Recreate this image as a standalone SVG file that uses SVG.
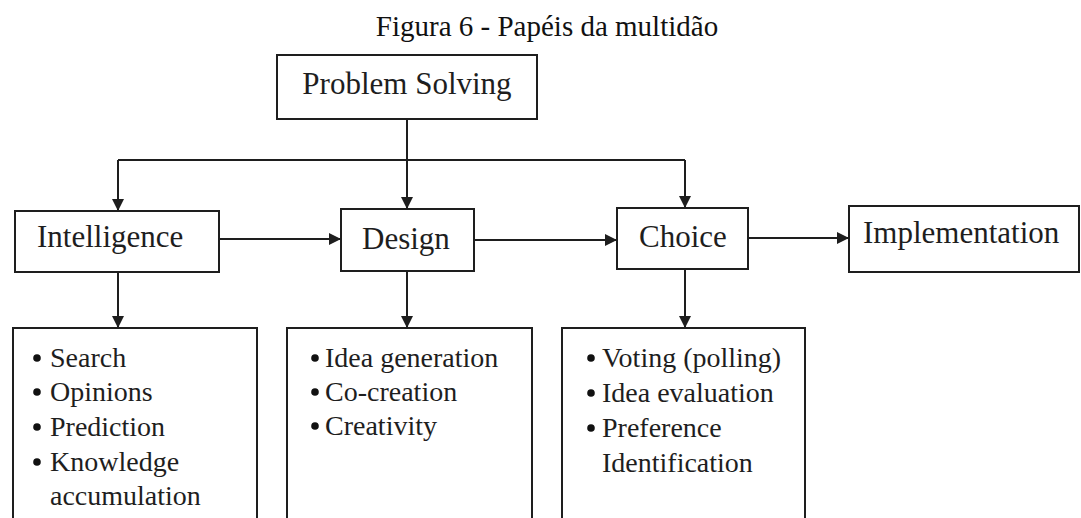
<svg xmlns="http://www.w3.org/2000/svg" width="1081" height="518" viewBox="0 0 1081 518">
  <style>
    .box { fill: #ffffff; stroke: #1e1e1e; stroke-width: 2; }
    .lbl { font-family: "Liberation Serif", "Times New Roman", serif; font-size: 31px; fill: #1e1e1e; }
    .item { font-family: "Liberation Serif", "Times New Roman", serif; font-size: 28px; fill: #1e1e1e; }
    .dot { fill: #111111; }
    .title { font-family: "Liberation Serif", "Times New Roman", serif; font-size: 29px; fill: #111111; }
    .wire { fill: none; stroke: #1e1e1e; stroke-width: 2; }
  </style>
  <defs>
    <marker id="arrow" viewBox="0 0 12 12" refX="12" refY="6" markerWidth="12" markerHeight="12" markerUnits="userSpaceOnUse" orient="auto">
      <path d="M0,0 L12,6 L0,12 Z" fill="#1e1e1e"/>
    </marker>
  </defs>

  <rect width="1081" height="518" fill="#ffffff"/>

  <text class="title" x="547" y="36" text-anchor="middle">Figura 6 - Papéis da multidão</text>

  <g id="connectors">
    <!-- trunk from Problem Solving -->
    <path class="wire" d="M407,119 L407,209" marker-end="url(#arrow)"/>
    <path class="wire" d="M118,160 L685,160"/>
    <path class="wire" d="M118,160 L118,211" marker-end="url(#arrow)"/>
    <path class="wire" d="M685,160 L685,208" marker-end="url(#arrow)"/>
    <!-- phase sequence -->
    <path class="wire" d="M219,239 L341,239" marker-end="url(#arrow)"/>
    <path class="wire" d="M474,240 L617,240" marker-end="url(#arrow)"/>
    <path class="wire" d="M748,238 L849,238" marker-end="url(#arrow)"/>
    <!-- phases to crowd roles -->
    <path class="wire" d="M118,272 L118,328" marker-end="url(#arrow)"/>
    <path class="wire" d="M407,271 L407,328" marker-end="url(#arrow)"/>
    <path class="wire" d="M685,269 L685,328" marker-end="url(#arrow)"/>
  </g>

  <g id="problem-solving">
    <rect class="box" x="277" y="55" width="260" height="64"/>
    <text class="lbl" x="407" y="94" text-anchor="middle">Problem Solving</text>
  </g>

  <g id="intelligence">
    <rect class="box" x="15" y="211" width="204" height="61"/>
    <text class="lbl" x="37" y="247">Intelligence</text>
  </g>

  <g id="design">
    <rect class="box" x="341" y="209" width="133" height="62"/>
    <text class="lbl" x="362" y="249">Design</text>
  </g>

  <g id="choice">
    <rect class="box" x="617" y="208" width="131" height="61"/>
    <text class="lbl" x="639" y="247">Choice</text>
  </g>

  <g id="implementation">
    <rect class="box" x="849" y="206" width="230" height="66"/>
    <text class="lbl" x="863" y="243">Implementation</text>
  </g>

  <!-- bullet lists of crowd roles; bullets drawn as small discs -->
  <g id="intelligence-roles">
    <rect class="box" x="13" y="328" width="244" height="210"/>
    <circle class="dot" cx="37" cy="358" r="3.8"/><text class="item" x="50" y="367">Search</text>
    <circle class="dot" cx="37" cy="392" r="3.8"/><text class="item" x="50" y="401">Opinions</text>
    <circle class="dot" cx="37" cy="427" r="3.8"/><text class="item" x="50" y="436">Prediction</text>
    <circle class="dot" cx="37" cy="462" r="3.8"/><text class="item" x="50" y="471">Knowledge</text>
    <text class="item" x="50" y="505">accumulation</text>
  </g>

  <g id="design-roles">
    <rect class="box" x="287" y="328" width="245" height="210"/>
    <circle class="dot" cx="315" cy="358" r="3.8"/><text class="item" x="325" y="367">Idea generation</text>
    <circle class="dot" cx="315" cy="392" r="3.8"/><text class="item" x="325" y="401">Co-creation</text>
    <circle class="dot" cx="315" cy="426" r="3.8"/><text class="item" x="325" y="435">Creativity</text>
  </g>

  <g id="choice-roles">
    <rect class="box" x="562" y="328" width="243" height="210"/>
    <circle class="dot" cx="591" cy="358" r="3.8"/><text class="item" x="602" y="367">Voting (polling)</text>
    <circle class="dot" cx="591" cy="393" r="3.8"/><text class="item" x="602" y="402">Idea evaluation</text>
    <circle class="dot" cx="591" cy="428" r="3.8"/><text class="item" x="602" y="437">Preference</text>
    <text class="item" x="602" y="472">Identification</text>
  </g>
</svg>
